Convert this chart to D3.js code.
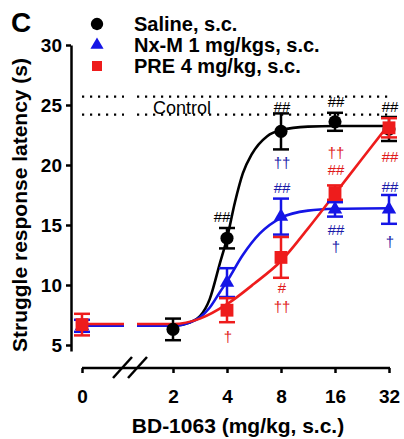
<!DOCTYPE html>
<html>
<head>
<meta charset="utf-8">
<script src="https://cdn.jsdelivr.net/npm/d3@7"></script>
<style>
  body { margin: 0; background: #fff; }
  svg { display: block; font-family: "Liberation Sans", Arial, sans-serif; }
</style>
</head>
<body>
<script>
// doses of BD-1063 (mg/kg), 0 sits left of the axis break
let doseTicks = [0, 2, 4, 8, 16, 32];
let yTicks = [5, 10, 15, 20, 25, 30];
let controlBand = [24.2, 25.7];

let seriesNames = ['Saline, s.c.', 'Nx-M 1 mg/kgs, s.c.', 'PRE 4 mg/kg, s.c.'];

let salineDose = [2, 4, 8, 16, 32];
let salineMean = [6.3, 13.9, 22.8, 23.6, 23.0];
let salineSem = [0.9, 0.85, 1.5, 0.75, 1.0];

let nxmDose = [0, 4, 8, 16, 32];
let nxmMean = [6.6, 10.2, 15.7, 16.3, 16.3];
let nxmSem = [0.5, 1.2, 1.5, 0.6, 1.2];

let preDose = [0, 4, 8, 16, 32];
let preMean = [6.7, 7.9, 12.3, 17.7, 23.1];
let preSem = [0.9, 1.0, 1.7, 0.6, 0.8];

// fitted curves as [dose, latency]
let salineFit = [[2, 6.6], [2.5, 6.9], [2.83, 7.4], [3.2, 8.8], [3.65, 11.8], [4, 13.9], [4.43, 16.9],
  [4.9, 19.3], [5.5, 20.9], [6.7, 22.4], [8, 22.9], [11.3, 23.2], [16, 23.25], [32, 23.25]];
let nxmFit = [[2, 6.6], [2.5, 6.9], [2.83, 7.3], [3.2, 8.1], [3.65, 9.4], [4, 10.3], [4.9, 12.5],
  [6.1, 14.3], [8, 15.6], [11.3, 16.2], [16, 16.35], [32, 16.4]];
let preFit = [[2, 6.75], [2.83, 7.2], [4, 8.4], [5.66, 10.1], [8, 12.0], [11.3, 14.7], [16, 17.6],
  [22.6, 20.5], [32, 23.4]];

// significance marks: [dose, latency, text, series index]
let marks = [
  [4, 15.67, '##', 0], [8, 24.83, '##', 0], [16, 25.25, '##', 0], [32, 24.83, '##', 0],
  [8, 20.17, '††', 1], [8, 18.08, '##', 1], [16, 14.58, '##', 1], [16, 13.17, '†', 1],
  [32, 18.17, '##', 1], [32, 13.58, '†', 1],
  [16, 21.0, '††', 2], [16, 19.58, '##', 2], [32, 20.67, '##', 2],
  [8, 9.8, '#', 2], [8, 8.2, '††', 2], [4, 5.67, '†', 2]
];

let colours = ['#000000', '#1515e6', '#ee1c1c'];
let markColours = ['#000000', '#1a1aa8', '#e01a1a'];
let symbols = [d3.symbolCircle, d3.symbolTriangle, d3.symbolSquare];

let W = 404, H = 439;
let x0 = 82, breakL = 124, breakR = 137, axisY = 368, axisX = 71;

let xLog = d3.scaleLog().domain([2, 32]).range([173, 389]);
let xZero = d3.scaleLinear().domain([0, 2]).range([x0, 173]);
let x = d => d === 0 ? x0 : xLog(d);
let y = d3.scaleLinear().domain([4.5, 30]).range([351, 45]);

let svg = d3.select('body').append('svg')
  .attr('width', W)
  .attr('height', H);

// control band (dotted lines broken at the axis break)
controlBand.forEach(v => {
  [[x0, breakL], [breakR, 393]].forEach(seg => {
    svg.append('line')
      .attr('x1', seg[0]).attr('x2', seg[1])
      .attr('y1', y(v)).attr('y2', y(v))
      .attr('stroke', '#000')
      .attr('stroke-width', 2.2)
      .attr('stroke-dasharray', '2.2,5.8');
  });
});
svg.append('text')
  .attr('x', 182).attr('y', 114)
  .attr('text-anchor', 'middle')
  .attr('font-size', 18)
  .text('Control');

// axes
let yAxis = svg.append('g')
  .attr('transform', 'translate(' + axisX + ',0)')
  .call(d3.axisLeft(y).tickValues(yTicks).tickSize(5).tickSizeOuter(0).tickPadding(4));

let xAxis = svg.append('g')
  .attr('transform', 'translate(0,' + axisY + ')')
  .call(d3.axisBottom(xLog).tickValues(doseTicks.slice(1)).tickFormat(d3.format('d'))
    .tickSize(5).tickSizeOuter(0).tickPadding(17));
xAxis.select('.domain').remove();
let xAxis0 = svg.append('g')
  .attr('transform', 'translate(0,' + axisY + ')')
  .call(d3.axisBottom(xZero).tickValues(doseTicks.slice(0, 1)).tickFormat(d3.format('d'))
    .tickSize(5).tickPadding(17));
xAxis0.select('.domain').remove();
svg.append('line')
  .attr('x1', x0).attr('x2', xLog(32) + 1)
  .attr('y1', axisY).attr('y2', axisY)
  .attr('stroke', '#000').attr('stroke-width', 2.5);

[yAxis, xAxis, xAxis0].forEach(g => {
  g.selectAll('path, line').attr('stroke', '#000').attr('stroke-width', 2.5);
  g.selectAll('text')
    .attr('fill', '#000')
    .attr('font-size', 19)
    .attr('font-weight', 'bold')
    .attr('font-family', '"Liberation Sans", Arial, sans-serif');
});

// axis break slashes
[0, 15].forEach(off => {
  svg.append('line')
    .attr('x1', 113 + off).attr('y1', 378)
    .attr('x2', 132 + off).attr('y2', 357)
    .attr('stroke', '#000').attr('stroke-width', 2.5);
});

svg.append('text')
  .attr('x', 238).attr('y', 433)
  .attr('text-anchor', 'middle')
  .attr('font-size', 21)
  .attr('font-weight', 'bold')
  .text('BD-1063 (mg/kg, s.c.)');

svg.append('text')
  .attr('transform', 'translate(27,205) rotate(-90)')
  .attr('text-anchor', 'middle')
  .attr('font-size', 21)
  .attr('font-weight', 'bold')
  .text('Struggle response latency (s)');

svg.append('text')
  .attr('x', 11).attr('y', 32)
  .attr('font-size', 28)
  .attr('font-weight', 'bold')
  .text('C');

// fitted curves
let line = d3.line()
  .x(d => xLog(d[0]))
  .y(d => y(d[1]))
  .curve(d3.curveMonotoneX);

let fits = [salineFit, nxmFit, preFit];
let startAtZero = [false, true, true];
fits.forEach((f, i) => {
  let pts = [[xLog.invert(breakR), f[0][1]]].concat(f);
  svg.append('path')
    .attr('d', line(pts))
    .attr('fill', 'none')
    .attr('stroke', colours[i])
    .attr('stroke-width', 2.6);
  if (startAtZero[i]) {
    svg.append('line')
      .attr('x1', x0).attr('x2', breakL)
      .attr('y1', y(f[0][1])).attr('y2', y(f[0][1]))
      .attr('stroke', colours[i])
      .attr('stroke-width', 2.6);
  }
});

// points with sem bars
let groups = [
  [salineDose, salineMean, salineSem],
  [nxmDose, nxmMean, nxmSem],
  [preDose, preMean, preSem]
];
let symSize = [135, 90, 165];

groups.forEach((g, i) => {
  let data = g[0].map((d, k) => ({dose: d, mean: g[1][k], sem: g[2][k]}));
  let pg = svg.append('g').attr('stroke', colours[i]).attr('stroke-width', 2.5);
  let pt = pg.selectAll('g.pt').data(data).enter().append('g').attr('class', 'pt');
  pt.append('line')
    .attr('x1', d => x(d.dose)).attr('x2', d => x(d.dose))
    .attr('y1', d => y(d.mean - d.sem)).attr('y2', d => y(d.mean + d.sem));
  [-1, 1].forEach(s => {
    pt.append('line')
      .attr('x1', d => x(d.dose) - 8).attr('x2', d => x(d.dose) + 8)
      .attr('y1', d => y(d.mean + s * d.sem)).attr('y2', d => y(d.mean + s * d.sem));
  });
  pt.append('path')
    .attr('d', d3.symbol().type(symbols[i]).size(symSize[i]))
    .attr('transform', d => 'translate(' + x(d.dose) + ',' + y(d.mean) + ')')
    .attr('fill', colours[i])
    .attr('stroke', 'none');
});

// significance marks
svg.selectAll('text.mark')
  .data(marks)
  .enter().append('text')
  .attr('class', 'mark')
  .attr('x', d => x(d[0]) + (d[0] === 4 && d[3] === 0 ? -5 : 1))
  .attr('y', d => y(d[1]))
  .attr('dy', '0.36em')
  .attr('text-anchor', 'middle')
  .attr('font-size', 15)
  .attr('fill', d => markColours[d[3]])
  .text(d => d[2]);

// legend
let legendY = [24, 45, 66];
let legendSize = [120, 75, 100];
seriesNames.forEach((name, i) => {
  svg.append('path')
    .attr('d', d3.symbol().type(symbols[i]).size(legendSize[i]))
    .attr('transform', 'translate(97,' + legendY[i] + ')')
    .attr('fill', colours[i]);
  svg.append('text')
    .attr('x', 134).attr('y', legendY[i] + 7)
    .attr('font-size', 20)
    .attr('font-weight', 'bold')
    .text(name);
});
</script>
</body>
</html>
